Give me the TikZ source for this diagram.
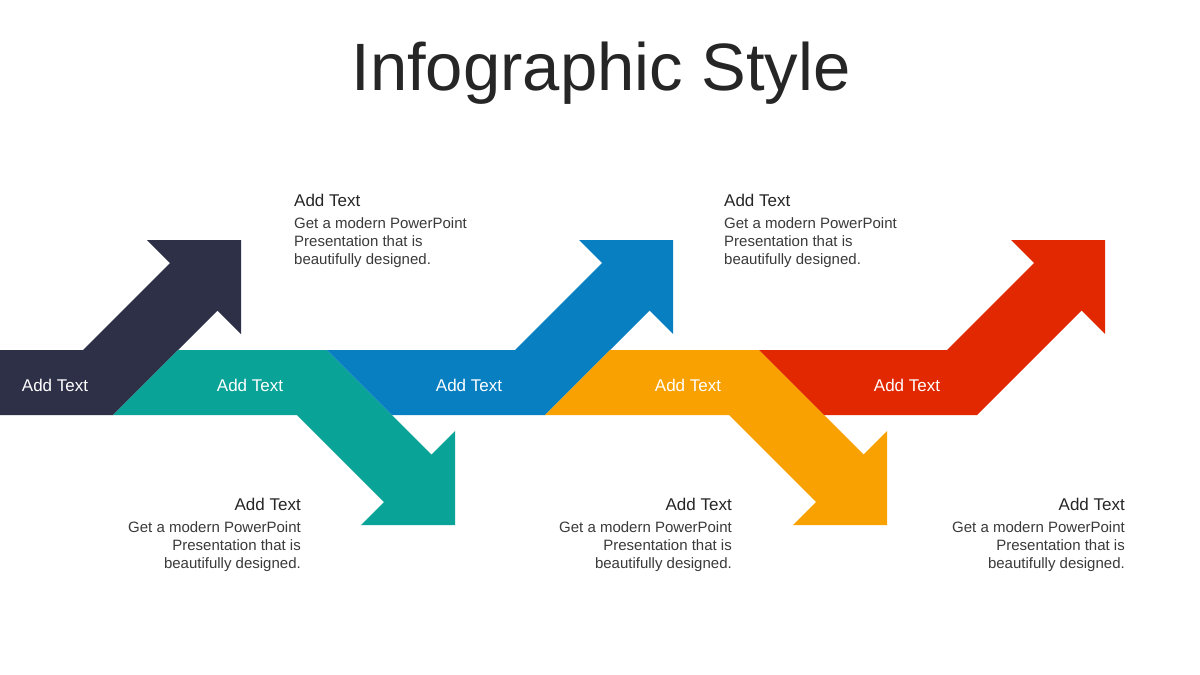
\documentclass[tikz,border=0pt]{standalone}
\usepackage{fontspec}
\setmainfont{Liberation Sans}
\usepackage{xcolor}
\definecolor{ArrNavy}{HTML}{2E3047}
\definecolor{ArrTeal}{HTML}{0AA398}
\definecolor{ArrBlue}{HTML}{087FC1}
\definecolor{ArrOrange}{HTML}{F9A100}
\definecolor{ArrRed}{HTML}{E22800}
\definecolor{TxtHead}{HTML}{262626}
\definecolor{TxtBody}{HTML}{3A3A3A}

\begin{document}
\begin{tikzpicture}[x=1pt, y=-1pt,
  pfeiltext/.style={text=white, inner sep=0pt, font=\fontsize{17}{20}\selectfont}]

  % Seitenrahmen
  \useasboundingbox (0,0) rectangle (1200,675);
  \fill[white] (0,0) rectangle (1200,675);

  % Titel
  \node[anchor=base, inner sep=0pt, text=TxtHead, font=\fontsize{67}{80}\selectfont] (title) at (601,90) {Infographic Style};

  % Makro fuer Pfeil nach oben
  % Parameter: 1=Farbe, 2=x-Versatz, 3=linke Kante oben, 4=linke Kante unten
  \def\pfeilhoch#1#2#3#4{
    \begin{scope}[shift={(#2,0)}]
      \fill[#1] (#3,350) -- (83,350) -- (170,263) -- (147,240) -- (241,240)
        -- (241,334) -- (217.5,310.5) -- (113,415) -- (#4,415) -- cycle;
    \end{scope}
  }

  % Makro fuer Pfeil nach unten (gespiegelt)
  \def\pfeilrunter#1#2#3#4{
    \begin{scope}[shift={(#2,0)}]
      \fill[#1] (#3,350) -- (113,350) -- (217.5,454.5) -- (241,431) -- (241,525)
        -- (147,525) -- (170,502) -- (83,415) -- (#4,415) -- cycle;
    \end{scope}
  }

  % Pfeilkette
  \pfeilhoch{ArrNavy}{0}{0}{0}
  \pfeilrunter{ArrTeal}{214}{-36}{-101}
  \pfeilhoch{ArrBlue}{432}{-105}{-40}
  \pfeilrunter{ArrOrange}{646}{-36}{-101}
  \pfeilhoch{ArrRed}{864}{-105}{-40}

  % Beschriftung im Band
  \foreach \x/\n in {55/1, 250/2, 469/3, 688/4, 907/5}
    \node[pfeiltext] (band\n) at (\x,385) {Add Text};

  % Makro fuer Textbloecke
  % Parameter: 1=x, 2=Grundlinie Kopf, 3=Anker (west/east), 4=Ausrichtung, 5=Name
  \def\infoblock#1#2#3#4#5{
    \node[anchor=base #3, inner sep=0pt, text=TxtHead, font=\fontsize{17}{20}\selectfont] (#5-head) at (#1,#2) {Add Text};
    \node[anchor=north #3, inner sep=0pt, align=#4, text=TxtBody, font=\fontsize{15}{18}\selectfont] (#5-body) at (#1,{#2+11.5})
      {Get a modern PowerPoint\\Presentation that is\\beautifully designed.};
  }

  % Textbloecke oben und unten
  \infoblock{294}{206}{west}{left}{info1}
  \infoblock{724}{206}{west}{left}{info3}
  \infoblock{301}{510}{east}{right}{info2}
  \infoblock{732}{510}{east}{right}{info4}
  \infoblock{1125}{510}{east}{right}{info5}

\end{tikzpicture}
\end{document}
